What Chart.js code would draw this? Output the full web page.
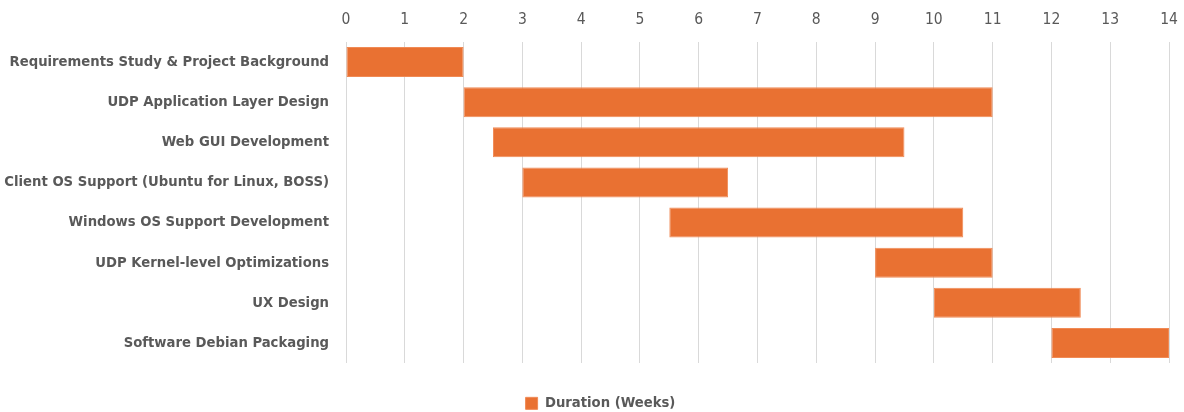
<!DOCTYPE html>
<html>
<head>
<meta charset="utf-8">
<script src="https://cdn.jsdelivr.net/npm/chart.js@4"></script>
<style>
  html, body { margin: 0; padding: 0; background: #fff; }
  #wrap { width: 1184px; height: 412px; }
</style>
</head>
<body>
<div id="wrap"><canvas id="gantt"></canvas></div>
<script>
// tasks and their start / end week
const tasks = [
  "Requirements Study & Project Background",
  "UDP Application Layer Design",
  "Web GUI Development",
  "Client OS Support (Ubuntu for Linux, BOSS)",
  "Windows OS Support Development",
  "UDP Kernel-level Optimizations",
  "UX Design",
  "Software Debian Packaging"
];
const startWeek = [0, 2, 2.5, 3, 5.5, 9, 10, 12];
const endWeek = [2, 11, 9.5, 6.5, 10.5, 11, 12.5, 14];
const seriesName = "Duration (Weeks)";

const labelFont = "'Liberation Sans Narrow', 'DejaVu Sans Condensed', sans-serif";
const grey = "#595959";
const orange = "#E97132";

// floating bars: [start, end]
let bars = tasks.map((t, i) => [startWeek[i], endWeek[i]]);

// keep the legend snug under the plot, a bit right of centre like the original
const legendSize = {
  id: "legendSize",
  beforeInit(chart) {
    const fit = chart.legend.fit;
    chart.legend.fit = function () {
      fit.bind(chart.legend)();
      this.height = 49;
    };
  },
  afterLayout(chart) {
    chart.legend.left += 28;
  }
};

new Chart(document.getElementById("gantt"), {
  type: "bar",
  data: {
    labels: tasks,
    datasets: [{
      label: seriesName,
      data: bars,
      backgroundColor: orange,
      borderColor: "#F08A55",
      borderWidth: 1,
      borderSkipped: false,
      barPercentage: 0.75,
      categoryPercentage: 1
    }]
  },
  options: {
    indexAxis: "y",
    responsive: true,
    maintainAspectRatio: false,
    animation: false,
    layout: { padding: { left: 4, right: 15, top: 0, bottom: 0 } },
    scales: {
      x: {
        position: "top",
        min: 0,
        max: 14,
        ticks: { stepSize: 1, color: grey, padding: 13, font: { family: labelFont, size: 15.5 } },
        grid: { color: "#D9D9D9", drawTicks: false },
        border: { display: false },
        afterFit(scale) {
          scale.height = 42;
          scale.paddingLeft = 0;
          scale.paddingRight = 0;
        }
      },
      y: {
        ticks: { color: grey, padding: 17, font: { family: labelFont, size: 14.7, weight: "bold" } },
        grid: { display: false, drawTicks: false },
        border: { display: false },
        afterFit(scale) { scale.width = 342; }
      }
    },
    plugins: {
      tooltip: { enabled: false },
      legend: {
        position: "bottom",
        labels: {
          boxWidth: 12,
          boxHeight: 12,
          padding: 33,
          color: grey,
          font: { family: labelFont, size: 14.7, weight: "bold" }
        }
      }
    }
  },
  plugins: [legendSize]
});
</script>
</body>
</html>
